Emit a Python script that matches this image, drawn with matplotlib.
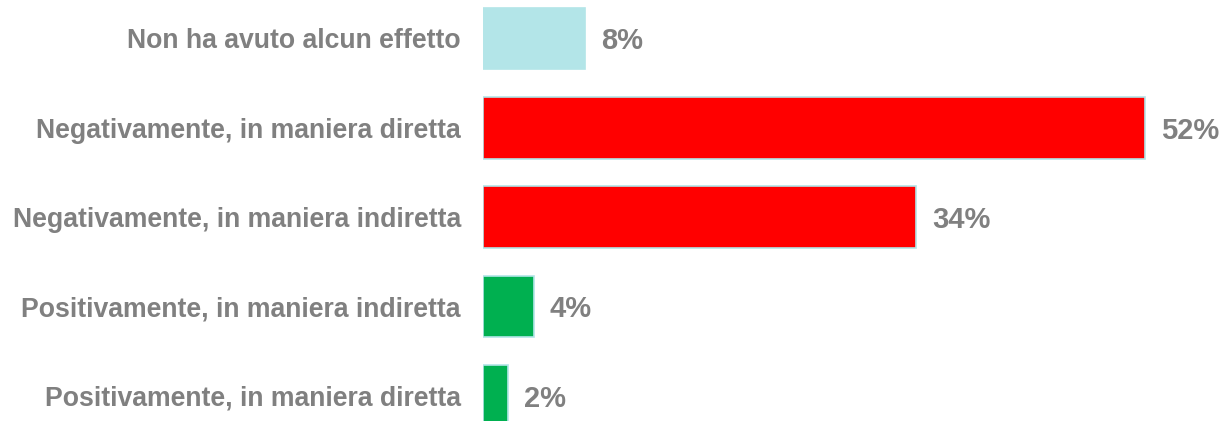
import matplotlib
matplotlib.use("Agg")
import matplotlib.pyplot as plt

categorie = ["Non ha avuto alcun effetto",
             "Negativamente, in maniera diretta",
             "Negativamente, in maniera indiretta",
             "Positivamente, in maniera indiretta",
             "Positivamente, in maniera diretta"]
valori = [8, 52, 34, 4, 2]
colori = ["#B3E5E8", "#FF0000", "#FF0000", "#00B050", "#00B050"]

plt.rcParams['font.family'] = ['Liberation Sans', 'DejaVu Sans']

fig = plt.figure(figsize=(12.28, 4.21), dpi=100)
fig.patch.set_facecolor('white')
ax = fig.add_axes([483/1228, 0, 1 - 483/1228, 1])

pos = list(range(len(valori)))
ax.barh(pos, valori, height=0.69, color=colori, edgecolor="#B3E5E8", linewidth=1.2)

for p, v in zip(pos, valori):
    ax.annotate(f"{v}%", xy=(v, p), xytext=(16, -3), textcoords='offset pixels',
                va='center', ha='left', fontsize=21, fontweight='bold', color='#808080')

ax.set_xlim(0, 58.5)
ax.set_ylim(4.283, -0.431)
ax.set_yticks(pos)
ax.set_yticklabels(categorie, fontsize=19.2, fontweight='bold', color='#808080')
ax.tick_params(axis='y', length=0, pad=16)
ax.set_xticks([])
for s in ax.spines.values():
    s.set_visible(False)

fig.savefig("out.png", dpi=100, facecolor='white')
